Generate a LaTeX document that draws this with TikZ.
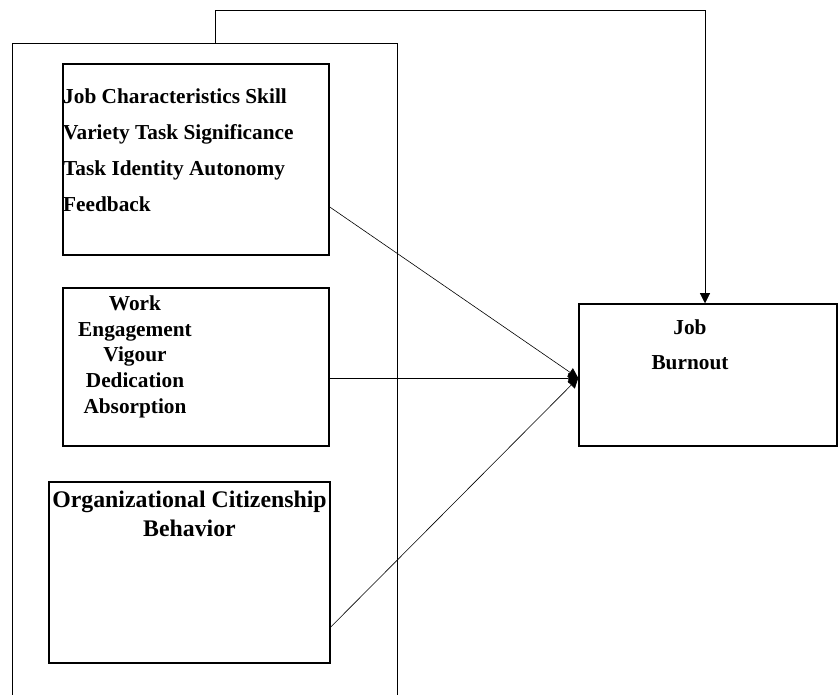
\documentclass[tikz,border=0pt]{standalone}
\usepackage{fontspec}
\setmainfont{Liberation Serif}
\usetikzlibrary{arrows.meta}

\begin{document}
\begin{tikzpicture}[x=1pt,y=-1pt,
  box/.style={draw,line width=1.5pt,inner sep=0pt},
  txt/.style={inner sep=0pt,font=\bfseries\fontsize{21.3}{36}\selectfont},
  link/.style={line width=0.6pt,-{Triangle[length=10pt,width=10pt]}}]
\useasboundingbox (0,0) rectangle (839,695);
\draw [line width=0.9pt] (12,695) |- (397,43) -- (397,695);
\coordinate (top) at (215,43);
\node [box,minimum width=266pt,minimum height=191pt] (jc) at (196,159.5) {};
\node [box,minimum width=266pt,minimum height=158pt] (we) at (196,367) {};
\node [box,minimum width=281pt,minimum height=181pt] (ocb) at (189.5,572.5) {};
\node [box,minimum width=258pt,minimum height=142pt] (jb) at (708,375) {};
\node [txt,anchor=north west,align=left] (jc-t) at (63,88.6) {Job Characteristics Skill\\Variety Task Significance\\Task Identity Autonomy\\Feedback};
\node [txt,anchor=north,align=center,font=\bfseries\fontsize{21.3}{25.7}\selectfont] (we-t) at (135,295.6) {Work\\Engagement\\Vigour\\Dedication\\Absorption};
\node [txt,anchor=north,align=center,font=\bfseries\fontsize{23.8}{29}\selectfont] (ocb-t) at (189.5,491) {Organizational Citizenship\\Behavior};
\node [txt,anchor=north,align=center,font=\bfseries\fontsize{21.3}{35}\selectfont] (jb-t) at (690,319.6) {Job\\Burnout};
\draw [link] ([yshift=-47.5pt]jc.east) -- ([yshift=-3pt]jb.west);
\draw [link] ([yshift=-11pt]we.east) -- ([yshift=-3pt]jb.west);
\draw [link] ([yshift=-54.5pt]ocb.east) -- ([yshift=-3pt]jb.west);
\draw [link] (top) -- ++(0,-33) -| ([xshift=-3pt]jb.north);
\end{tikzpicture}
\end{document}
